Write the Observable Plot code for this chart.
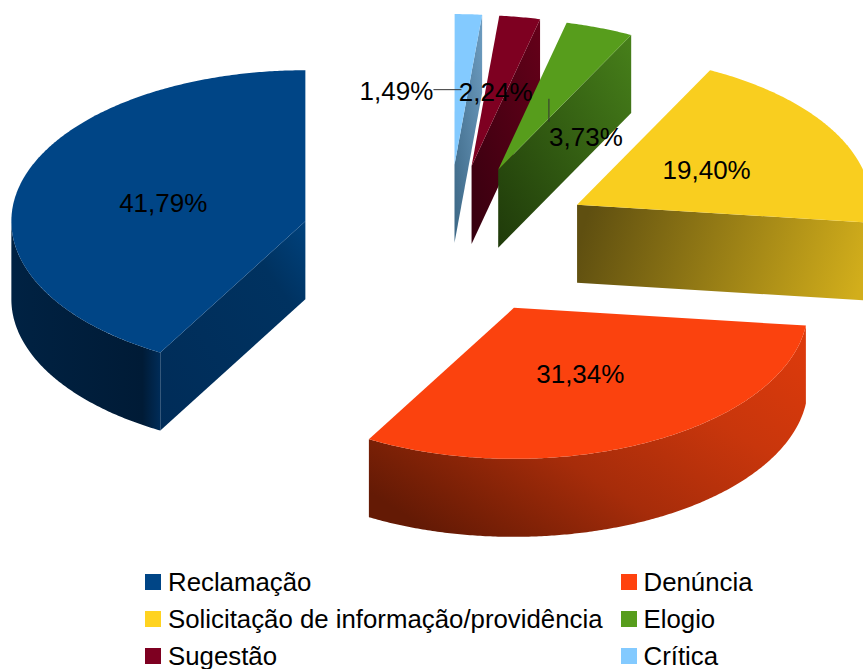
<!DOCTYPE html>
<html lang="pt">
<head>
<meta charset="utf-8">
<style>
  html, body { margin: 0; padding: 0; background: #fff; overflow: hidden; }
  body { width: 863px; height: 669px; font-family: "Liberation Sans", sans-serif; color: #000; }
  svg { display: block; }
  #legend { position: absolute; left: 145px; top: 563.5px; display: grid; grid-template-columns: 475.5px auto; grid-auto-rows: 37px; font-size: 25.8px; line-height: 37px; }
  #legend div { display: flex; align-items: center; white-space: nowrap; }
  #legend i { display: block; width: 16px; height: 16px; margin-right: 7px; flex: none; }
</style>
</head>
<body>
<div id="chart"></div>
<div id="legend"></div>
<script src="https://cdn.jsdelivr.net/npm/d3@7"></script>
<script src="https://cdn.jsdelivr.net/npm/@observablehq/plot@0.6"></script>
<script>
// Data
const categories = ["Reclamação", "Denúncia", "Solicitação de informação/providência", "Elogio", "Sugestão", "Crítica"];
const percentages = [41.79, 31.34, 19.40, 3.73, 2.24, 1.49];

// Styles
const legendColors = ["#004586", "#ff420e", "#ffd320", "#579d1c", "#7e0021", "#83caff"];
const topColors = ["#004586", "#fb420e", "#f9ce1f", "#579d1c", "#7e0021", "#83caff"];
const cutStops = [
  [[0, "#002c58"], [0.75, "#003260"], [1, "#00427d"]],
  [[0, "#a82c0a"], [1, "#a82c0a"]],
  [[0, "#5f4f10"], [1, "#d2ae1b"]],
  [[0, "#1f3a0a"], [1, "#47801a"]],
  [[0, "#36000f"], [1, "#650019"]],
  [[0, "#3c6785"], [1, "#6d9cc0"]]
];
const rimStops = [
  [[0, "#002243"], [0.88, "#001b36"], [1, "#002c58"]],
  [[0.03, "#641a05"], [0.15, "#7a2006"], [0.39, "#a62c0a"], [0.7, "#c8360c"], [1, "#dc3a0c"]],
  [[0, "#806a14"], [1, "#806a14"]], [[0, "#2b4f0e"], [1, "#2b4f0e"]],
  [[0, "#3f0011"], [1, "#3f0011"]], [[0, "#42657f"], [1, "#42657f"]]
];
// Label displacement (px) from the default spot, and the leader drawn from that spot
const labelShift = [[0, 1.5], [0, -0.5], [0, 1], [37, 39], [0, 1.5], [-65, 2.5]];
const leaderEnd = [null, null, null, [0, 23], null, [-28, 0]];

// Layout
const W = 863, H = 562, CX = 447, CY = 240, RX = 294, RY = 151, DEPTH = 78, EXPLODE = 0.5;
const dz = DEPTH / RY;

const pt = (a, r = 1) => { const t = a * Math.PI / 180; return [-Math.sin(t) * r, -Math.cos(t) * r]; };
const drawOrder = [5, 4, 3, 2, 0, 1];

let cum = 0;
const slices = percentages.map((p, i) => {
  const a0 = cum * 3.6; cum += p; const a1 = Math.min(cum * 3.6, 360);
  const mid = (a0 + a1) / 2;
  const [ox, oy] = pt(mid, EXPLODE);
  return { i, p, a0, a1, mid, ox, oy };
});

const arc = (s, from, to, z = 0) => {
  const n = Math.max(2, Math.ceil((to - from) * 2));
  return d3.range(n + 1).map(k => {
    const [x, y] = pt(from + (to - from) * k / n);
    return { x: s.ox + x, y: s.oy + y + z };
  });
};
const shapeTop = s => [{ x: s.ox, y: s.oy }, ...arc(s, s.a0, s.a1)];
const shapeCut = (s, a) => {
  const [x, y] = pt(a);
  return [{ x: s.ox, y: s.oy }, { x: s.ox + x, y: s.oy + y }, { x: s.ox + x, y: s.oy + y + dz }, { x: s.ox, y: s.oy + dz }];
};
const shapeRim = s => {
  const from = Math.max(s.a0, 90), to = Math.min(s.a1, 270);
  if (to <= from) return null;
  return [...arc(s, from, to), ...arc(s, from, to, dz).reverse()];
};
const poly = (data, fill) => Plot.line(data, { x: "x", y: "y", fill, stroke: "none", curve: "linear" });

const defs = () => {
  const d = d3.create("svg:defs");
  const add = (id, stops, x1, y1, x2, y2) => {
    const g = d.append("linearGradient").attr("id", id)
      .attr("x1", x1).attr("y1", y1).attr("x2", x2).attr("y2", y2);
    stops.forEach(([o, c]) => g.append("stop").attr("offset", o).attr("stop-color", c));
  };
  cutStops.forEach((c, i) => {
    if (i === 2) add("cut" + i, c, 0, 0.45, 1, 0.55);
    else add("cut" + i, c, 0, 1, 1, 0);
  });
  rimStops.forEach((c, i) => {
    if (i === 0) add("rim" + i, c, 0, 0, 1, 0);
    else add("rim" + i, c, 0, 0.85, 1, 0.1);
  });
  return d.node();
};

const marks = [defs];
for (const o of drawOrder) {
  const s = slices[o];
  // Only the cut faces that turn towards the viewer are drawn
  if (s.a0 > 180 && s.a0 < 360) marks.push(poly(shapeCut(s, s.a0), `url(#cut${o})`));
  if (s.a1 > 0 && s.a1 < 180) marks.push(poly(shapeCut(s, s.a1), `url(#cut${o})`));
  const rim = shapeRim(s);
  if (rim) marks.push(poly(rim, `url(#rim${o})`));
  marks.push(poly(shapeTop(s), topColors[o]));
}

const labelData = slices.map(s => {
  const [x, y] = pt(s.mid, 0.5);
  const base = { x: s.ox + x, y: s.oy + y };
  const sh = labelShift[s.i], le = leaderEnd[s.i];
  return {
    text: s.p.toFixed(2).replace(".", ",") + "%",
    x: base.x + sh[0] / RX, y: base.y + sh[1] / RY,
    x1: base.x, y1: base.y,
    x2: le ? base.x + le[0] / RX : null, y2: le ? base.y + le[1] / RY : null
  };
});

marks.push(Plot.link(labelData.filter(d => d.x2 !== null), {
  x1: "x1", y1: "y1", x2: "x2", y2: "y2", stroke: "#333", strokeWidth: 1
}));
marks.push(Plot.text(labelData, {
  x: "x", y: "y", text: "text", fontSize: 26, fill: "#000", fontFamily: "Liberation Sans"
}));

const chart = Plot.plot({
  width: W, height: H, margin: 0,
  x: { domain: [-CX / RX, (W - CX) / RX], range: [0, W], axis: null },
  y: { domain: [-CY / RY, (H - CY) / RY], range: [0, H], axis: null },
  style: { background: "#fff", overflow: "hidden" },
  marks
});
document.getElementById("chart").append(chart);

const legend = document.getElementById("legend");
categories.forEach((c, i) => {
  const row = document.createElement("div");
  const sw = document.createElement("i");
  sw.style.background = legendColors[i];
  row.append(sw, document.createTextNode(c));
  legend.append(row);
});
</script>
</body>
</html>
